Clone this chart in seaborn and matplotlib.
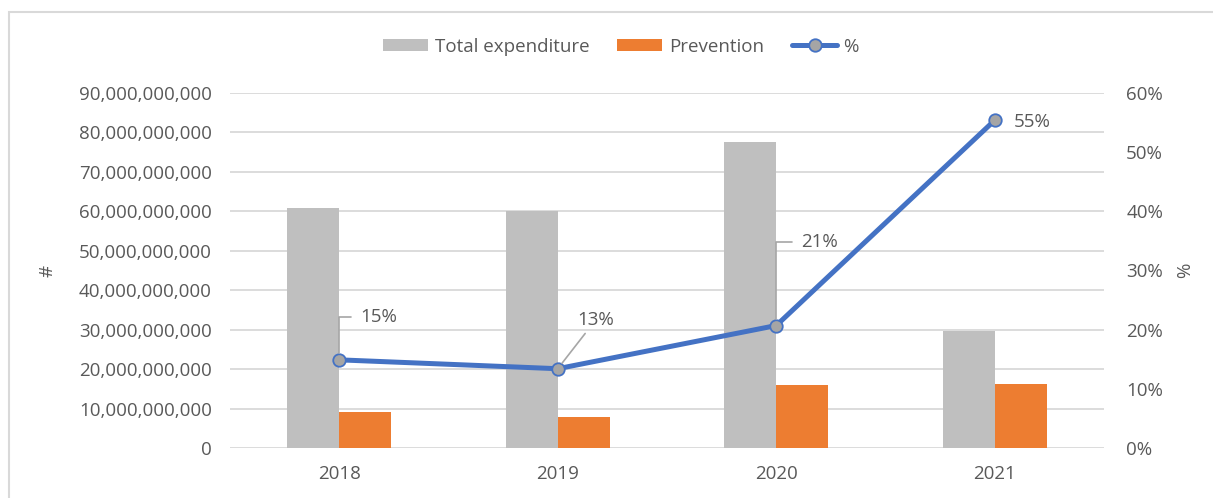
import numpy as np
import pandas as pd
import matplotlib
matplotlib.use("Agg")
import matplotlib.pyplot as plt
from matplotlib.patches import Patch, Rectangle
from matplotlib.lines import Line2D
from matplotlib.ticker import FuncFormatter, MultipleLocator
import seaborn as sns

years = ["2018", "2019", "2020", "2021"]
total_expenditure = [60.8e9, 60.1e9, 77.5e9, 29.7e9]
prevention = [9.05e9, 7.9e9, 16.0e9, 16.2e9]
pct = [0.149, 0.134, 0.207, 0.554]
pct_labels = ["15%", "13%", "21%", "55%"]
series_names = ["Total expenditure", "Prevention", "%"]

GRAY = "#BFBFBF"
ORANGE = "#ED7D31"
BLUE = "#4472C4"
MARK = "#A5A5A5"
TXT = "#595959"
GRID = "#D9D9D9"

sns.set_theme(style="white")
plt.rcParams["font.family"] = ["Open Sans", "DejaVu Sans"]
FS = 13.5

df = pd.DataFrame({
    "year": years * 2,
    "series": [series_names[0]] * 4 + [series_names[1]] * 4,
    "value": total_expenditure + prevention,
})

fig = plt.figure(figsize=(12.13, 4.98), dpi=100)
ax = fig.add_axes([230 / 1213, 1 - 448 / 498, 874 / 1213, 355 / 498])

sns.barplot(data=df, x="year", y="value", hue="series",
            palette=[GRAY, ORANGE], width=0.476, gap=0, saturation=1,
            errorbar=None, legend=False, linewidth=0, edgecolor="none", ax=ax)

ax.set_xlim(-0.5, 3.5)
ax.set_ylim(0, 90e9)
ax.yaxis.set_major_locator(MultipleLocator(10e9))
ax.yaxis.set_major_formatter(FuncFormatter(lambda v, p: f"{v:,.0f}"))
ax.grid(axis="y", color=GRID, lw=1.3)
ax.set_axisbelow(True)
for s in ax.spines.values():
    s.set_visible(False)
ax.tick_params(axis="both", length=0, labelsize=FS, labelcolor=TXT)
ax.tick_params(axis="y", pad=13)
ax.tick_params(axis="x", pad=12)
ax.set_xlabel("")
ax.set_ylabel("#", fontsize=FS, color=TXT)
ax.yaxis.set_label_coords(-0.198, 0.5)

ax2 = ax.twinx()
xpos = np.arange(len(years))
sns.lineplot(x=xpos, y=pct, ax=ax2, color=BLUE, lw=3.6, marker="o",
             markersize=9, markerfacecolor=MARK, markeredgecolor=BLUE,
             markeredgewidth=1.3, zorder=5)
ax2.set_ylim(0, 0.6)
ax2.yaxis.set_major_locator(MultipleLocator(0.1))
ax2.yaxis.set_major_formatter(FuncFormatter(lambda v, p: f"{v * 100:.0f}%"))
for s in ax2.spines.values():
    s.set_visible(False)
ax2.tick_params(axis="y", length=0, labelsize=FS, labelcolor=TXT, pad=16)
ax2.set_ylabel("%", fontsize=FS, color=TXT, rotation=90)
ax2.yaxis.set_label_coords(1.082, 0.5)
ax2.set_xlim(-0.5, 3.5)

offsets = [(15, 31), (14, 35), (18, 60), (14, -1)]
styles = ["angle", "arc3", "angle", None]
for i, (lab, off, st) in enumerate(zip(pct_labels, offsets, styles)):
    kw = {}
    if st == "angle":
        kw["arrowprops"] = dict(arrowstyle="-", color="#A6A6A6", lw=1.2,
                                connectionstyle="angle,angleA=0,angleB=90,rad=0",
                                shrinkA=4, shrinkB=5)
    elif st == "arc3":
        kw["arrowprops"] = dict(arrowstyle="-", color="#A6A6A6", lw=1.2,
                                connectionstyle="arc3", shrinkA=1, shrinkB=5)
    ax2.annotate(lab, xy=(xpos[i], pct[i]), xytext=off,
                 textcoords="offset points", ha="left", va="center",
                 fontsize=FS, color=TXT, zorder=6, **kw)

handles = [
    Patch(facecolor=GRAY, edgecolor="none"),
    Patch(facecolor=ORANGE, edgecolor="none"),
    Line2D([0], [0], color=BLUE, lw=3.6, marker="o", markersize=9,
           markerfacecolor=MARK, markeredgecolor=BLUE, markeredgewidth=1.3),
]
leg = fig.legend(handles, series_names, loc="center",
                 bbox_to_anchor=(621 / 1213, 1 - 46.5 / 498), ncol=3,
                 frameon=False, fontsize=FS, handlelength=2.4,
                 handleheight=0.65, handletextpad=0.35, columnspacing=1.5,
                 labelcolor=TXT)

fig.add_artist(Rectangle((9 / 1213, -0.05), 1.2, 1.05 - 12 / 498,
                         transform=fig.transFigure, fill=False,
                         edgecolor=GRID, lw=1.5))

fig.savefig("out.png", dpi=100)
